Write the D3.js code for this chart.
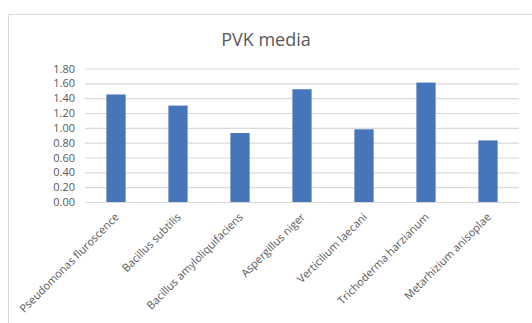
<html>
    <head>
        <script src="https://d3js.org/d3.v7.min.js"></script>
        <title>PVK media</title>
        <style>
            body { margin: 0; background: #fff; }
            text { font-family: "Open Sans", "Noto Sans", sans-serif; }
        </style>
    </head>
    <body>
        <div class="viz"></div>
        <script type="text/javascript">
            var categories = ["Pseudomonas fluroscence", "Bacillus subtilis", "Bacillus amyloliquifaciens",
                              "Aspergillus niger", "Verticilium laecani", "Trichoderma harzianum", "Metarhizium anisoplae"];
            var values = [1.45, 1.30, 0.93, 1.52, 0.98, 1.61, 0.83];
            var yTicks = [0, 0.2, 0.4, 0.6, 0.8, 1.0, 1.2, 1.4, 1.6, 1.8];
            var title = "PVK media";

            var vizWidth = 532;
            var vizHeight = 323;
            var margin = {top: 68.5, right: 13, bottom: 121, left: 85};

            var svg = d3.select(".viz")
                        .append("svg")
                        .attr("width", vizWidth)
                        .attr("height", vizHeight);

            // chart frame
            svg.append("path")
                .attr("d", "M8.5," + vizHeight + "V14.5H" + vizWidth)
                .attr("fill", "none")
                .attr("stroke", "#d9d9d9")
                .attr("stroke-width", 1);

            svg.append("text")
                .attr("x", 266)
                .attr("y", 46)
                .attr("text-anchor", "middle")
                .attr("font-size", 18)
                .attr("fill", "#595959")
                .text(title);

            var xScale = d3.scaleBand()
                    .domain(categories)
                    .range([margin.left, vizWidth - margin.right])
                    .paddingInner(0.69)
                    .paddingOuter(0.345);

            var yScale = d3.scaleLinear()
                    .domain([0, 1.8])
                    .range([vizHeight - margin.bottom, margin.top]);

            // gridlines + y labels
            var yAxis = svg.append("g")
                    .attr("transform", "translate(" + margin.left + ",0)")
                    .call(d3.axisLeft(yScale)
                        .tickValues(yTicks)
                        .tickFormat(d3.format(".2f"))
                        .tickSize(-(vizWidth - margin.right - margin.left))
                        .tickPadding(10));
            yAxis.select(".domain").remove();
            yAxis.selectAll(".tick line")
                .attr("stroke", "#d9d9d9")
                .attr("stroke-width", 1.2);
            yAxis.selectAll(".tick text")
                .attr("fill", "#595959")
                .attr("font-size", 11)
                .style("font-family", "'Open Sans', sans-serif");

            svg.selectAll("rect.bar")
                .data(values)
                .enter()
                .append("rect")
                .attr("class", "bar")
                .attr("x", function(d, i){ return xScale(categories[i]); })
                .attr("width", xScale.bandwidth())
                .attr("y", function(d){ return yScale(d); })
                .attr("height", function(d){ return yScale(0) - yScale(d); })
                .attr("fill", "#4775b9");

            // x labels, rotated
            svg.selectAll("text.xlab")
                .data(categories)
                .enter()
                .append("text")
                .attr("class", "xlab")
                .attr("text-anchor", "end")
                .attr("font-size", 11)
                .attr("fill", "#595959")
                .attr("dy", "0.35em")
                .attr("transform", function(d){
                    return "translate(" + (xScale(d) + xScale.bandwidth()/2 + 1) + "," + (yScale(0) + 13) + ") rotate(-45)";
                })
                .text(function(d){ return d; });
        </script>
    </body>
</html>
